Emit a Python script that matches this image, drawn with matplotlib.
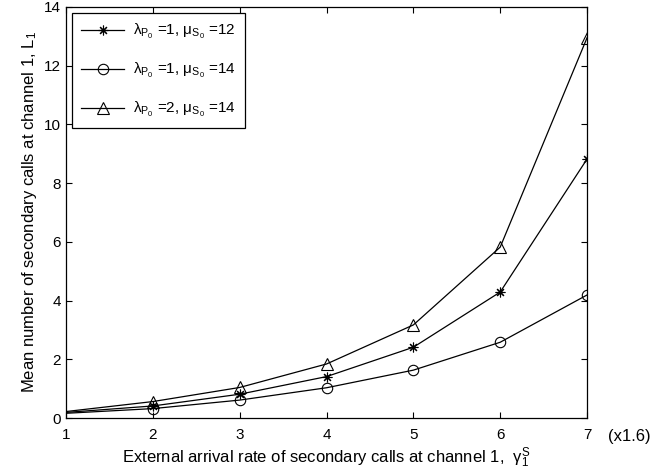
import matplotlib.pyplot as plt

plt.rcParams['font.family'] = ['Liberation Sans', 'DejaVu Sans']
plt.rcParams['mathtext.fontset'] = 'custom'
plt.rcParams['mathtext.rm'] = 'Liberation Sans'
plt.rcParams['mathtext.it'] = 'Liberation Sans'
plt.rcParams['mathtext.default'] = 'rm'

# external arrival rate (units of 1.6)
rate = [1, 2, 3, 4, 5, 6, 7]
L1_p1_s12 = [0.19, 0.41, 0.81, 1.41, 2.41, 4.29, 8.82]
L1_p1_s14 = [0.16, 0.32, 0.61, 1.03, 1.63, 2.58, 4.19]
L1_p2_s14 = [0.22, 0.56, 1.04, 1.84, 3.17, 5.82, 12.95]

labels = [r'$\lambda_{P_0}$ =1, $\mu_{S_0}$ =12',
          r'$\lambda_{P_0}$ =1, $\mu_{S_0}$ =14',
          r'$\lambda_{P_0}$ =2, $\mu_{S_0}$ =14']

fig = plt.figure(figsize=(6.68, 4.75), dpi=100)
ax = fig.add_axes([0.0988, 0.12, 0.78, 0.8653])

style = dict(color='k', lw=0.9, markevery=slice(1, None), mfc='none',
             mec='k', mew=0.8)
ax.plot(rate, L1_p1_s12, marker=(8, 2, 0), ms=7, label=labels[0], **style)
ax.plot(rate, L1_p1_s14, marker='o', ms=7.5, label=labels[1], **style)
ax.plot(rate, L1_p2_s14, marker='^', ms=8.5, label=labels[2], **style)

ax.set_xlim(1, 7)
ax.set_ylim(0, 14)
ax.set_xticks(rate)
ax.set_yticks(range(0, 15, 2))
ax.tick_params(direction='in', top=True, right=True, labelsize=11, length=4)
ax.tick_params(axis='x', pad=7)
for s in ax.spines.values():
    s.set_linewidth(0.9)

ax.set_xlabel(r'External arrival rate of secondary calls at channel 1,  $\gamma_1^S$',
              fontsize=12, labelpad=3)
ax.set_ylabel('Mean number of secondary calls at channel 1, L$_1$', fontsize=12,
              labelpad=4)
ax.text(1.04, -0.045, '(x1.6)', transform=ax.transAxes, fontsize=12, va='center')

leg = ax.legend(loc='upper left', fontsize=11, handlelength=2.8,
                fancybox=False, edgecolor='k', framealpha=1,
                borderaxespad=0.4, labelspacing=1.3, borderpad=0.6,
                handletextpad=0.6)
leg.get_frame().set_linewidth(0.9)

fig.savefig('out.png', dpi=100)
